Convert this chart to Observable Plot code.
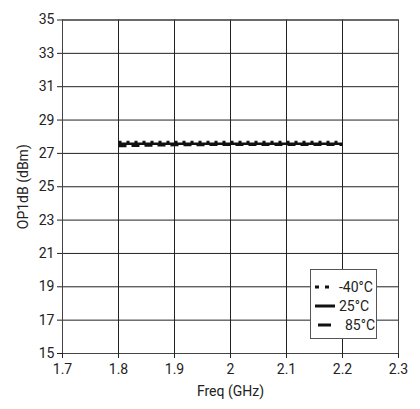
<!DOCTYPE html>
<html><head><meta charset="utf-8">
<script src="https://cdn.jsdelivr.net/npm/d3@7"></script>
<script src="https://cdn.jsdelivr.net/npm/@observablehq/plot@0.6"></script>
<style>
body{margin:0;background:#fff;font-family:Roboto,sans-serif;}
#wrap{position:relative;width:420px;height:409px;}
#legend{position:absolute;left:310px;top:269px;width:67px;height:70px;background:#fff;border:1px solid #555;box-sizing:border-box;font-size:14px;color:#222;}
#legend .row{position:absolute;left:0;height:16px;display:flex;align-items:center;}
#legend svg{margin-left:4px;margin-right:3px;}
</style></head><body>
<div id="wrap"><div id="chart"></div>
<div id="legend"></div></div>
<script>
const freq = [1.8, 1.9, 2.0, 2.1, 2.2];
const seriesNames = ["-40°C", "25°C", "85°C"];
const opM40 = [27.68, 27.68, 27.68, 27.68, 27.68];
const op25 = [27.58, 27.58, 27.58, 27.58, 27.58];
const op85 = [27.44, 27.5, 27.52, 27.52, 27.52];
const xTicks = [1.7, 1.8, 1.9, 2.0, 2.1, 2.2, 2.3];
const yTicks = [15, 17, 19, 21, 23, 25, 27, 29, 31, 33, 35];
const dashes = ["3,5", null, "8,5"];

const all = [opM40, op25, op85];
const data = [];
all.forEach((vals, si) => vals.forEach((v, i) => data.push({f: freq[i], v, s: seriesNames[si]})));

const chart = Plot.plot({
  width: 420, height: 409,
  marginLeft: 62, marginRight: 22, marginTop: 19.5, marginBottom: 56,
  style: {fontFamily: "Roboto, sans-serif", fontSize: "14px", color: "#222", background: "#fff"},
  x: {domain: [1.7, 2.3]},
  y: {domain: [15, 35]},
  marks: [
    Plot.gridX(xTicks, {stroke: "#222", strokeOpacity: 1, strokeWidth: 1}),
    Plot.gridY(yTicks, {stroke: "#222", strokeOpacity: 1, strokeWidth: 1}),
    Plot.frame({stroke: "#444"}),
    Plot.axisX({ticks: xTicks, tickSize: 5, tickPadding: 6, tickFormat: d => String(+d.toFixed(1)), label: "Freq (GHz)", labelAnchor: "center", labelArrow: "none", labelOffset: 42, fontSize: 14}),
    Plot.axisY({ticks: yTicks, tickSize: 5, tickPadding: 3, label: "OP1dB (dBm)", labelAnchor: "center", labelArrow: "none", labelOffset: 44, fontSize: 14}),
    ...seriesNames.map((n, si) => Plot.line(data.filter(d => d.s === n), {x: "f", y: "v", stroke: "#111", strokeWidth: 2.5, strokeDasharray: dashes[si], strokeLinecap: "butt"}))
  ]
});
document.getElementById("chart").appendChild(chart);

const leg = document.getElementById("legend");
seriesNames.forEach((n, i) => {
  const row = document.createElement("div");
  row.className = "row";
  row.style.top = (9 + i * 19) + "px";
  let line;
  if (i === 0) line = `<line x1="0" y1="3" x2="20" y2="3" stroke="#111" stroke-width="3" stroke-dasharray="4,6"/>`;
  else if (i === 1) line = `<line x1="0" y1="3" x2="20" y2="3" stroke="#111" stroke-width="3"/>`;
  else line = `<line x1="3" y1="3" x2="16" y2="3" stroke="#111" stroke-width="3"/>`;
  row.innerHTML = `<svg width="21" height="6">${line}</svg><span style="${i===2?'margin-left:6px':''}">${n}</span>`;
  leg.appendChild(row);
});
</script>
</body></html>
